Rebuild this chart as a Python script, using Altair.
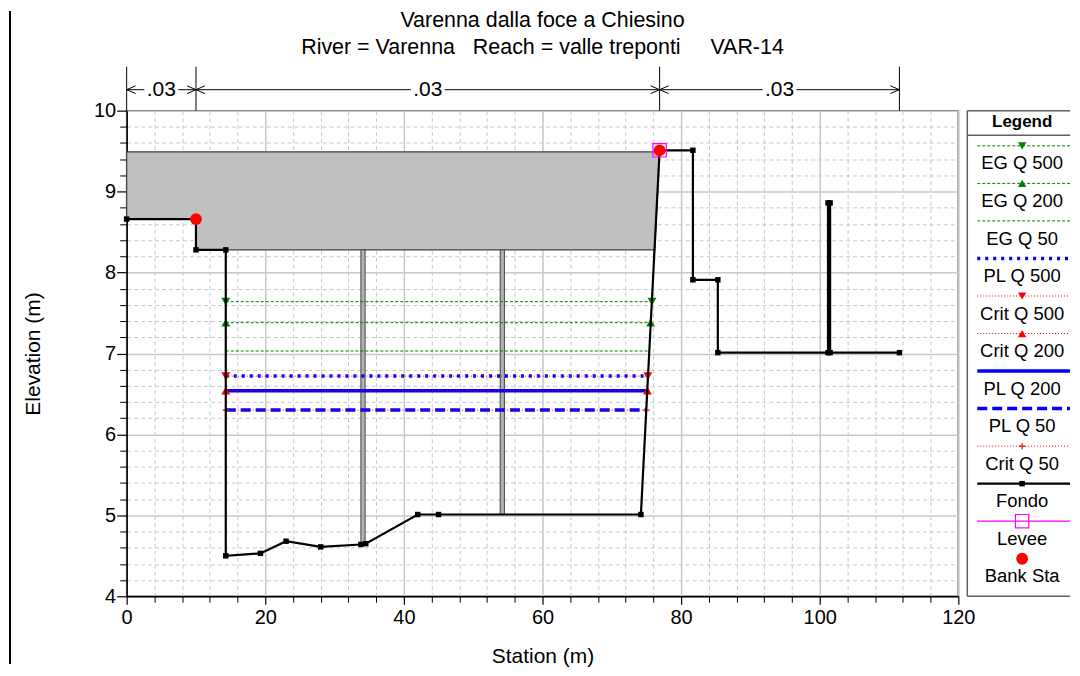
import altair as alt
import pandas as pd

F = "Liberation Sans"

# ---------------- data ----------------
ground_sta = [0.0, 10.0, 10.0, 14.3, 14.3, 19.3, 23.0, 28.0, 33.8, 34.5, 42.0, 45.0, 74.2,
              76.9, 81.7, 81.7, 85.3, 85.3, 101.2, 101.2, 101.5, 101.5, 111.5]
ground_elev = [8.66, 8.66, 8.28, 8.28, 4.50, 4.53, 4.68, 4.61, 4.64, 4.65, 5.01, 5.01, 5.01,
               9.51, 9.51, 7.91, 7.91, 7.01, 7.01, 8.86, 8.86, 7.01, 7.01]

deck_sta = [0.0, 10.0, 10.02, 14.3, 76.2, 76.9]
deck_high = [9.49, 9.49, 9.49, 9.49, 9.49, 9.49]
deck_low = [8.66, 8.66, 8.28, 8.28, 8.28, 9.49]

pier_left = [33.8, 53.9]
pier_right = [34.4, 54.5]
pier_top = [8.28, 8.28]
pier_bottom = [4.64, 5.01]

ws_names = ["EG Q 500", "EG Q 200", "EG Q 50", "PL Q 500", "Crit Q 500",
            "Crit Q 200", "PL Q 200", "PL Q 50", "Crit Q 50"]
ws_elev = [7.64, 7.38, 7.03, 6.72, 6.72, 6.54, 6.54, 6.30, 6.30]
ws_left = [14.3, 14.3, 14.3, 14.3, 14.3, 14.3, 14.3, 14.3, 14.3]
ws_right = [75.8, 75.6, 75.45, 75.25, 75.2, 75.15, 75.15, 75.0, 75.0]

bank_sta = [10.0, 76.9]
bank_elev = [8.66, 9.51]
levee_sta = [76.9]
levee_elev = [9.51]

n_sta = [0.0, 10.0, 76.9, 111.5]
n_val = [".03", ".03", ".03"]

legend_labels = ["EG Q 500", "EG Q 200", "EG Q 50", "PL Q 500", "Crit Q 500", "Crit Q 200",
                 "PL Q 200", "PL Q 50", "Crit Q 50", "Fondo", "Levee", "Bank Sta"]

x_major = [0, 20, 40, 60, 80, 100, 120]
y_major = [4, 5, 6, 7, 8, 9, 10]
x_minor = [v for v in range(0, 121, 4) if v % 20 != 0]
y_minor = [round(4 + 0.2 * k, 1) for k in range(31) if k % 5 != 0]

# ---------------- styles ----------------
PLUS = "M -1 0 L 1 0 M 0 -1 L 0 1"
styles = {
    "EG Q 500": dict(color="#008000", width=1, dash=[3, 2], shape="triangle-down"),
    "EG Q 200": dict(color="#008000", width=1, dash=[3, 2], shape="triangle-up"),
    "EG Q 50": dict(color="#008000", width=1, dash=[3, 2], shape=None),
    "PL Q 500": dict(color="#0000ff", width=3.5, dash=[3, 5], shape=None),
    "Crit Q 500": dict(color="#ff0000", width=1, dash=[1, 2], shape="triangle-down"),
    "Crit Q 200": dict(color="#ff0000", width=1, dash=[1, 2], shape="triangle-up"),
    "PL Q 200": dict(color="#0000ff", width=3.5, dash=None, shape=None),
    "PL Q 50": dict(color="#0000ff", width=3.5, dash=[10, 5], shape=None),
    "Crit Q 50": dict(color="#ff0000", width=1, dash=[1, 2], shape=PLUS),
}
draw_order = ["EG Q 500", "EG Q 200", "EG Q 50", "PL Q 500", "PL Q 200", "PL Q 50",
              "Crit Q 500", "Crit Q 200", "Crit Q 50"]

W, H = 834, 487
xs = alt.Scale(domain=[0, 120], nice=False, zero=False)
ys = alt.Scale(domain=[4, 10], nice=False, zero=False)


def X(f):
    return alt.X(f"{f}:Q", scale=xs, axis=None)


def Y(f):
    return alt.Y(f"{f}:Q", scale=ys, axis=None)


def rule_kw(st):
    kw = dict(color=st["color"], strokeWidth=st["width"])
    if st["dash"]:
        kw["strokeDash"] = st["dash"]
    return kw


def marker_kw(st, size=80):
    if st["shape"] == PLUS:
        return dict(shape=PLUS, filled=False, stroke=st["color"], strokeWidth=1.2, size=40, opacity=1)
    return dict(shape=st["shape"], filled=True, color=st["color"], size=size, opacity=1)


ground_df = pd.DataFrame({"sta": ground_sta, "elev": ground_elev, "i": range(len(ground_sta))})
deck_df = pd.DataFrame({"sta": deck_sta, "hi": deck_high, "lo": deck_low})
pier_df = pd.DataFrame({"a": pier_left, "b": pier_right, "t": pier_top, "bt": pier_bottom})
ws_df = pd.DataFrame({"name": ws_names, "elev": ws_elev, "l": ws_left, "r": ws_right})
bank_df = pd.DataFrame({"sta": bank_sta, "elev": bank_elev})
levee_df = pd.DataFrame({"sta": levee_sta, "elev": levee_elev})

ppu = W / 120.0
gap = 17 / ppu
seg_start = n_sta[:-1]
seg_end = n_sta[1:]
n_df = pd.DataFrame({
    "s": seg_start, "e": seg_end, "lab": n_val,
    "mid": [(a + b) / 2 for a, b in zip(seg_start, seg_end)],
})
n_df["ml"] = n_df["mid"] - gap
n_df["mr"] = n_df["mid"] + gap
nb_df = pd.DataFrame({"sta": n_sta})

layers = []

# axes (major + minor)
major_axes = alt.Chart(ground_df).mark_point(opacity=0).encode(
    x=alt.X("sta:Q", scale=xs, axis=alt.Axis(
        values=x_major, orient="bottom", grid=True, gridColor="#c8c8c8", gridWidth=1.5,
        domainColor="black", domainWidth=1.5, tickColor="black", tickSize=8, tickWidth=1.2,
        labelFont=F, labelFontSize=20, labelColor="black", labelPadding=3, labelFlush=False,
        title="Station (m)", titleFont=F, titleFontSize=21, titleFontWeight="normal",
        titleColor="black", titlePadding=18)),
    y=alt.Y("elev:Q", scale=ys, axis=alt.Axis(
        values=y_major, orient="left", grid=True, gridColor="#c8c8c8", gridWidth=1.5,
        domainColor="black", domainWidth=1.5, tickColor="black", tickSize=10, tickWidth=1.2,
        labelFont=F, labelFontSize=20, labelColor="black", labelPadding=1, labelFlush=False,
        title="Elevation (m)", titleFont=F, titleFontSize=21, titleFontWeight="normal",
        titleColor="black", titlePadding=50)),
)
minor_axes = alt.Chart(ground_df).mark_point(opacity=0).encode(
    x=alt.X("sta:Q", scale=xs, axis=alt.Axis(
        values=x_minor, orient="bottom", grid=True, gridColor="#c8c8c8", gridDash=[4, 3],
        gridWidth=1, domain=False, tickColor="black", tickSize=6, tickWidth=1,
        labels=False, title=None)),
    y=alt.Y("elev:Q", scale=ys, axis=alt.Axis(
        values=y_minor, orient="left", grid=True, gridColor="#c8c8c8", gridDash=[4, 3],
        gridWidth=1, domain=False, tickColor="black", tickSize=7, tickWidth=1,
        labels=False, title=None)),
)
layers += [major_axes, minor_axes]

# bridge deck
layers.append(alt.Chart(deck_df).mark_area(color="#c0c0c0", stroke="#404040", strokeWidth=1.2,
                                            opacity=1).encode(
    x=X("sta"), y=Y("hi"), y2="lo"))
# piers
layers.append(alt.Chart(pier_df).mark_rect(fill="#b4b4b4", stroke="#404040", strokeWidth=1).encode(
    x=X("a"), x2="b", y=Y("t"), y2="bt"))

# water surfaces
for nm in draw_order:
    st = styles[nm]
    sub = ws_df[ws_df["name"] == nm]
    layers.append(alt.Chart(sub).mark_rule(**rule_kw(st)).encode(x=X("l"), x2="r", y=Y("elev")))
for nm in draw_order:
    st = styles[nm]
    if not st["shape"]:
        continue
    sub = ws_df[ws_df["name"] == nm]
    base = alt.Chart(sub)
    layers.append(base.mark_point(**marker_kw(st)).encode(x=X("l"), y=Y("elev")))
    layers.append(base.mark_point(**marker_kw(st)).encode(x=X("r"), y=Y("elev")))

# ground
layers.append(alt.Chart(ground_df).mark_line(color="black", strokeWidth=2.2).encode(
    x=X("sta"), y=Y("elev"), order="i:Q"))
layers.append(alt.Chart(ground_df).mark_square(color="black", size=30, opacity=1).encode(
    x=X("sta"), y=Y("elev")))
# levee + bank stations
layers.append(alt.Chart(levee_df).mark_square(filled=False, stroke="#ff00ff", strokeWidth=1.2,
                                              size=180, opacity=1).encode(x=X("sta"), y=Y("elev")))
layers.append(alt.Chart(bank_df).mark_circle(color="#ff0000", size=140, opacity=1).encode(
    x=X("sta"), y=Y("elev")))

# Manning's n annotation above the plot
NY = -21
layers.append(alt.Chart(nb_df).mark_rule(color="black", strokeWidth=1).encode(
    x=X("sta"), y=alt.value(-44), y2=alt.value(0)))
layers.append(alt.Chart(n_df).mark_rule(color="black", strokeWidth=1).encode(
    x=X("s"), x2="ml", y=alt.value(NY)))
layers.append(alt.Chart(n_df).mark_rule(color="black", strokeWidth=1).encode(
    x=X("mr"), x2="e", y=alt.value(NY)))
layers.append(alt.Chart(n_df).mark_text(font=F, fontSize=21, color="black", baseline="middle").encode(
    x=X("mid"), y=alt.value(NY), text="lab:N"))
layers.append(alt.Chart(n_df).mark_point(shape="M 3 -1.3 L 0 0 L 3 1.3", filled=False, stroke="black",
                                         strokeWidth=1, size=36, opacity=1).encode(
    x=X("s"), y=alt.value(NY)))
layers.append(alt.Chart(n_df).mark_point(shape="M -3 -1.3 L 0 0 L -3 1.3", filled=False, stroke="black",
                                         strokeWidth=1, size=36, opacity=1).encode(
    x=X("e"), y=alt.value(NY)))

# outer left frame line
layers.append(alt.Chart(pd.DataFrame({"k": [0]})).mark_rule(color="black", strokeWidth=2).encode(
    x=alt.value(-117), y=alt.value(-100), y2=alt.value(555)))

title_lines = ["Varenna dalla foce a Chiesino",
               "River = Varenna\u00a0\u00a0 Reach = valle treponti\u00a0\u00a0\u00a0\u00a0 VAR-14"]

main = alt.layer(*layers).resolve_axis(x="independent", y="independent").properties(
    width=W, height=H,
    title=alt.TitleParams(text=title_lines, font=F, fontSize=21.5, fontWeight="normal", color="black",
                          anchor="middle", offset=6, lineHeight=27, dy=55),
    view=alt.ViewBackground(stroke="#505050", strokeWidth=1.5),
)

# ---------------- legend panel ----------------
LW = 103
LC = 55
ly = alt.Scale(domain=[-0.938, 12.0], reverse=True, nice=False, zero=False)
leg_df = pd.DataFrame({"name": legend_labels, "row": list(range(len(legend_labels)))})
leg_df["lrow"] = leg_df["row"] + 0.47


def LY(f):
    return alt.Y(f"{f}:Q", scale=ly, axis=None)


leg_layers = []
one = pd.DataFrame({"k": [0]})
for y0, x0, x1 in [(0, 0, LW), (H, 0, LW), (24.7, 0, LW)]:
    leg_layers.append(alt.Chart(one).mark_rule(color="#606060", strokeWidth=1.5).encode(
        x=alt.value(x0), x2=alt.value(x1), y=alt.value(y0)))
leg_layers.append(alt.Chart(one).mark_rule(color="#606060", strokeWidth=1.5).encode(
    x=alt.value(0), y=alt.value(0), y2=alt.value(H)))
leg_layers.append(alt.Chart(one).mark_text(text="Legend", font=F, fontSize=17, fontWeight="bold",
                                           color="black", baseline="middle").encode(
    x=alt.value(LC), y=alt.value(11)))

for nm in legend_labels[:9]:
    st = styles[nm]
    sub = leg_df[leg_df["name"] == nm]
    leg_layers.append(alt.Chart(sub).mark_rule(**rule_kw(st)).encode(
        x=alt.value(10), x2=alt.value(LW), y=LY("row")))
    if st["shape"]:
        leg_layers.append(alt.Chart(sub).mark_point(**marker_kw(st, 70)).encode(
            x=alt.value(LC), y=LY("row")))
sub = leg_df[leg_df["name"] == "Fondo"]
leg_layers.append(alt.Chart(sub).mark_rule(color="black", strokeWidth=2.2).encode(
    x=alt.value(10), x2=alt.value(LW), y=LY("row")))
leg_layers.append(alt.Chart(sub).mark_square(color="black", size=30, opacity=1).encode(
    x=alt.value(LC), y=LY("row")))
sub = leg_df[leg_df["name"] == "Levee"]
leg_layers.append(alt.Chart(sub).mark_rule(color="#ff00ff", strokeWidth=1.2).encode(
    x=alt.value(10), x2=alt.value(LW), y=LY("row")))
leg_layers.append(alt.Chart(sub).mark_square(filled=False, stroke="#ff00ff", strokeWidth=1.2, size=180,
                                             opacity=1).encode(x=alt.value(LC), y=LY("row")))
sub = leg_df[leg_df["name"] == "Bank Sta"]
leg_layers.append(alt.Chart(sub).mark_circle(color="#ff0000", size=140, opacity=1).encode(
    x=alt.value(LC), y=LY("row")))
leg_layers.append(alt.Chart(leg_df).mark_text(font=F, fontSize=18.5, color="black", baseline="middle").encode(
    x=alt.value(LC), y=LY("lrow"), text="name:N"))

legend = alt.layer(*leg_layers).properties(
    width=LW, height=H, view=alt.ViewBackground(strokeOpacity=0))

chart = alt.hconcat(main, legend, spacing=9, bounds="flush").properties(
    padding=0, background="white")

chart.save("out.html", embed_options={"renderer": "svg", "actions": False})
